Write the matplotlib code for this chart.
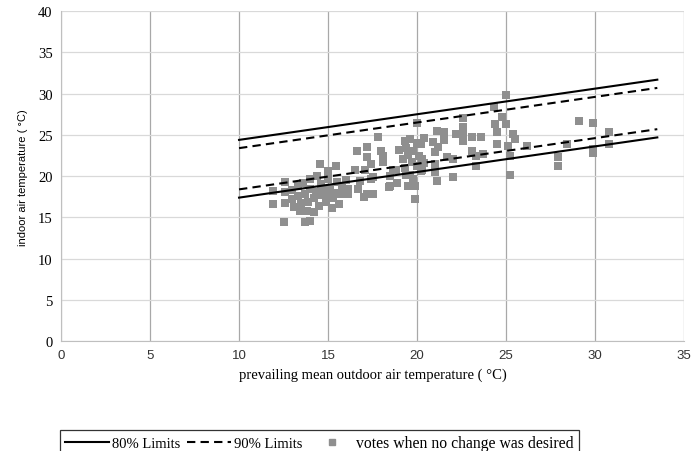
import matplotlib
matplotlib.use("Agg")
from matplotlib import pyplot
from matplotlib import font_manager
from matplotlib.lines import Line2D

# ---------------------------------------------------------------------------
# data
limit_x = [10.0, 33.5]
upper80 = [24.4, 31.7]
lower80 = [17.4, 24.7]
upper90 = [23.4, 30.7]
lower90 = [18.4, 25.7]

vote_x = [
    11.9, 11.9, 12.6, 12.6, 12.6, 12.5, 13.7, 14.0,
    13.0, 13.0, 13.1, 13.3, 13.3, 13.4, 13.5, 13.6, 13.7, 13.8, 13.9, 14.0,
    14.0, 14.2, 14.2, 14.3, 14.4, 14.5, 14.55, 14.6, 14.6, 14.8, 14.9, 15.0,
    15.0, 15.0, 15.1, 15.2, 15.3, 15.4, 15.45, 15.5, 15.6, 15.7, 15.8, 16.0,
    16.1, 16.1,
    16.5, 16.6, 16.7, 16.8, 17.0, 17.1, 17.2, 17.2, 17.2, 17.4, 17.4, 17.5,
    17.5, 17.8, 18.0, 18.1, 18.1, 18.4, 18.5, 18.5, 18.65, 18.8, 18.9, 19.0,
    19.2, 19.3, 19.3, 19.4, 19.4, 19.5, 19.5, 19.6, 19.6, 19.7, 19.8, 19.8,
    19.9, 19.9, 20.0, 20.0, 20.0, 20.1, 20.2, 20.2, 20.3, 20.3, 20.4, 20.4,
    20.9, 21.0, 21.0, 21.0, 21.1, 21.1, 21.2, 21.5, 21.5, 21.7, 22.0, 22.0,
    22.2,
    22.6, 22.6, 22.6, 22.6, 23.1, 23.1, 23.3, 23.3, 23.6, 23.7,
    24.3, 24.4, 24.5, 24.5, 24.8, 25.0, 25.0, 25.1, 25.2, 25.2, 25.4, 25.5,
    26.2, 27.9, 27.9, 28.4, 29.1, 29.9, 29.9, 29.9, 30.8, 30.8,
]
vote_y = [
    18.2, 16.6, 19.3, 18.1, 16.7, 14.4, 14.4, 14.6,
    17.2, 18.3, 16.3, 17.6, 18.8, 15.8, 16.8, 19.2, 17.9, 15.8, 16.9, 18.5,
    19.6, 15.6, 17.3, 18.1, 20.0, 16.4, 21.45, 17.7, 19.0, 18.4, 16.9, 17.6,
    19.6, 20.6, 18.6, 16.2, 17.3, 18.0, 21.2, 19.3, 16.6, 17.8, 18.8, 19.5,
    17.8, 18.4,
    20.8, 23.0, 18.4, 19.4, 17.5, 20.8, 23.5, 22.3, 17.8, 21.5, 19.6, 17.8,
    19.9, 24.7, 23.0, 21.7, 22.4, 18.7, 20.0, 18.8, 20.8, 20.8, 19.2, 23.2,
    22.1, 24.3, 21.0, 23.4, 20.2, 22.6, 18.8, 24.5, 20.2, 21.7, 23.0, 19.6,
    18.8, 17.2, 26.5, 24.0, 21.2, 22.5, 23.9, 20.6, 22.1, 20.8, 24.6, 21.6,
    24.2, 22.9, 21.5, 20.5, 25.5, 19.4, 23.5, 25.3, 24.4, 22.3, 22.1, 19.9,
    25.1,
    27.0, 26.0, 25.0, 24.3, 24.7, 23.0, 22.4, 21.2, 24.7, 22.7,
    28.4, 26.3, 25.3, 23.9, 27.2, 29.8, 26.3, 23.6, 22.4, 20.2, 25.1, 24.5,
    23.6, 22.3, 21.2, 23.9, 26.7, 26.5, 23.3, 22.8, 25.3, 23.9,
]

x_ticks = [0, 5, 10, 15, 20, 25, 30, 35]
y_ticks = [0, 5, 10, 15, 20, 25, 30, 35, 40]

serif = "Liberation Serif"
point_color = "#8f8f8f"

# narrow sans for the y label, if one is around
installed = {f.name for f in font_manager.fontManager.ttflist}
narrow = "Liberation Sans"
ylabel_size = 8.0
for name in ("Liberation Sans Narrow", "DejaVu Sans Condensed"):
    if name in installed:
        narrow = name
        ylabel_size = 9.5
        break

# ---------------------------------------------------------------------------
fig = pyplot.figure(figsize=(6.94, 4.52), dpi=100)
ax = fig.add_axes([0.088, 0.243, 0.8976, 0.730])

ax.set_xlim(0, 35)
ax.set_ylim(0, 40)
ax.set_xticks(x_ticks)
ax.set_yticks(y_ticks)

# grid: vertical darker than horizontal
ax.xaxis.grid(True, color="#a8a8a8", linewidth=0.9)
ax.yaxis.grid(True, color="#d9d9d9", linewidth=0.9)
ax.set_axisbelow(True)
for side in ("top", "right"):
    ax.spines[side].set_visible(False)
for side in ("left", "bottom"):
    ax.spines[side].set_color("#bfbfbf")
ax.tick_params(length=0, pad=6)

for lbl in ax.get_yticklabels():
    lbl.set_family(serif)
    lbl.set_fontsize(10.5)
for lbl in ax.get_xticklabels():
    lbl.set_family("Liberation Sans")
    lbl.set_fontsize(9.5)
    lbl.set_color("#333333")

# plot data
ax.scatter(vote_x, vote_y, marker="s", s=34, color=point_color,
           linewidths=0, zorder=2)
ax.plot(limit_x, upper80, "k-", linewidth=1.5, zorder=3)
ax.plot(limit_x, lower80, "k-", linewidth=1.5, zorder=3)
ax.plot(limit_x, upper90, "k--", linewidth=1.5, dashes=(4, 2.5), zorder=3)
ax.plot(limit_x, lower90, "k--", linewidth=1.5, dashes=(4, 2.5), zorder=3)

ax.set_xlabel("prevailing mean outdoor air temperature ( °C)",
              family=serif, fontsize=10.5, labelpad=4)
ax.set_ylabel("indoor air temperature ( °C)", family=narrow,
              fontsize=ylabel_size, labelpad=7)

# legend box at the bottom (cut off by the figure edge)
handles = [
    Line2D([], [], color="k", linewidth=1.5),
    Line2D([], [], color="k", linewidth=1.5, linestyle="--", dashes=(4, 2.5)),
    Line2D([], [], color=point_color, marker="s", linestyle="None",
           markersize=5),
]
labels = ["80% Limits", "90% Limits", "votes when no change was desired"]
leg = fig.legend(handles, labels, loc="upper left",
                 bbox_to_anchor=(60 / 694, 1 - 431 / 452),
                 ncol=3, frameon=True, fancybox=False,
                 prop={"family": serif, "size": 10.5},
                 handlelength=3.0, handletextpad=0.2, columnspacing=0.5,
                 borderpad=0.35, borderaxespad=0)
leg.get_texts()[2].set_fontsize(11.3)
leg.get_frame().set_edgecolor("black")
leg.get_frame().set_linewidth(0.9)

fig.savefig("out.png", dpi=100)
